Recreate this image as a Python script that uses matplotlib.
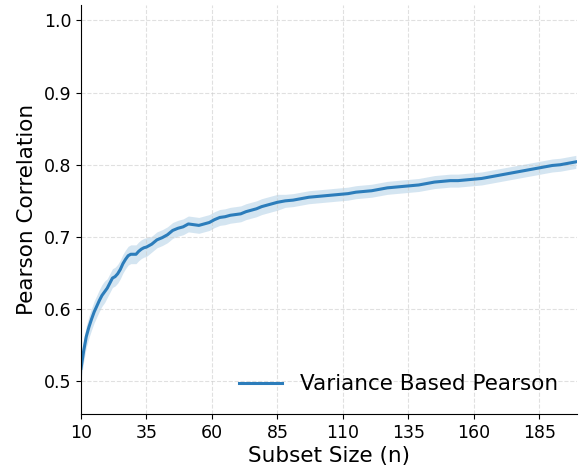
import numpy as np
import matplotlib.pyplot as plt

# subset sizes and mean Pearson correlation
subset_sizes = (list(range(10, 36)) + list(range(37, 86, 2))
                + list(range(88, 200, 3)))
mean_corr = [
    0.518, 0.542, 0.562, 0.575, 0.586, 0.596, 0.604, 0.612, 0.619, 0.624,
    0.629, 0.636, 0.643, 0.645, 0.649, 0.655, 0.663, 0.669, 0.674, 0.676,
    0.676, 0.676, 0.680, 0.683, 0.685, 0.686,
    0.690, 0.696, 0.699, 0.703, 0.709, 0.712, 0.714, 0.718, 0.717, 0.716,
    0.718, 0.720, 0.724, 0.727, 0.728, 0.730, 0.731, 0.732, 0.735, 0.737,
    0.739, 0.742, 0.744, 0.746, 0.748,
    0.750, 0.751, 0.753, 0.755, 0.756, 0.757, 0.758, 0.759, 0.760, 0.762,
    0.763, 0.764, 0.766, 0.768, 0.769, 0.770, 0.771, 0.772, 0.774, 0.776,
    0.777, 0.778, 0.778, 0.779, 0.780, 0.781, 0.783, 0.785, 0.787, 0.789,
    0.791, 0.793, 0.795, 0.797, 0.799, 0.800, 0.802, 0.804,
]
half_width = ([0.015] * 10 + [0.013] * 16 + [0.011] * 25 + [0.009] * 38)

x_ticks = [10, 35, 60, 85, 110, 135, 160, 185]
y_ticks = [0.5, 0.6, 0.7, 0.8, 0.9, 1.0]

color = '#2c7dbb'

fig = plt.figure(figsize=(5.83, 4.74), dpi=100)
ax = fig.add_axes([0.139, 0.127, 0.851, 0.862])

x = np.array(subset_sizes)
y = np.array(mean_corr)
hw = np.array(half_width)
ax.fill_between(x, y - hw, y + hw, color=color, alpha=0.2, linewidth=0)
ax.plot(x, y, color=color, linewidth=2.2, label='Variance Based Pearson')

ax.set_xlim(10, 199.5)
ax.set_ylim(0.455, 1.021)
ax.set_xticks(x_ticks)
ax.set_yticks(y_ticks)
ax.tick_params(labelsize=12.5)
ax.set_xlabel('Subset Size (n)', fontsize=15.5, labelpad=3)
ax.set_ylabel('Pearson Correlation', fontsize=15.5, labelpad=5)
ax.grid(True, linestyle='--', color='#cccccc', alpha=0.6, linewidth=0.8)
ax.spines['top'].set_visible(False)
ax.spines['right'].set_visible(False)
ax.legend(loc='lower right', frameon=False, fontsize=15.5)

fig.savefig('out.png', dpi=100)
